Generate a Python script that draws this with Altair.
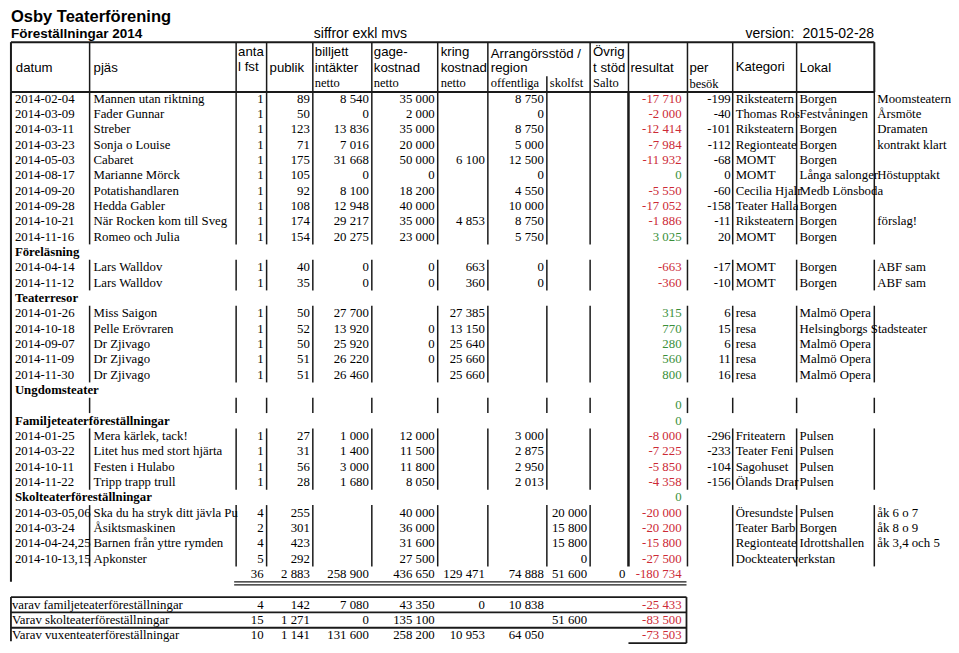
import altair as alt
import pandas as pd

# ---------------- values read from the sheet ----------------
titel = "Osby Teaterförening"
undertitel = "Föreställningar 2014"
anmarkning = "siffror exkl mvs"
version_etikett = "version:"
version_datum = "2015-02-28"

sektion_rad = [10, 13, 19, 21, 26]
sektion_namn = ["Föreläsning", "Teaterresor", "Ungdomsteater",
                "Familjeteaterföreställningar", "Skolteaterföreställningar"]

datum = ["2014-02-04", "2014-03-09", "2014-03-11", "2014-03-23", "2014-05-03",
         "2014-08-17", "2014-09-20", "2014-09-28", "2014-10-21", "2014-11-16",
         None, "2014-04-14", "2014-11-12", None,
         "2014-01-26", "2014-10-18", "2014-09-07", "2014-11-09", "2014-11-30",
         None, None, None,
         "2014-01-25", "2014-03-22", "2014-10-11", "2014-11-22", None,
         "2014-03-05,06", "2014-03-24", "2014-04-24,25", "2014-10-13,15"]
pjas = ["Mannen utan riktning", "Fader Gunnar", "Streber", "Sonja o Louise", "Cabaret",
        "Marianne Mörck", "Potatishandlaren", "Hedda Gabler", "När Rocken kom till Sveg",
        "Romeo och Julia", None, "Lars Walldov", "Lars Walldov", None,
        "Miss Saigon", "Pelle Erövraren", "Dr Zjivago", "Dr Zjivago", "Dr Zjivago",
        None, None, None,
        "Mera kärlek, tack!", "Litet hus med stort hjärta", "Festen i Hulabo",
        "Tripp trapp trull", None,
        "Ska du ha stryk ditt jävla Pu", "Åsiktsmaskinen", "Barnen från yttre rymden",
        "Apkonster"]
antal = [1, 1, 1, 1, 1, 1, 1, 1, 1, 1, None, 1, 1, None, 1, 1, 1, 1, 1,
         None, None, None, 1, 1, 1, 1, None, 4, 2, 4, 5]
publik = [89, 50, 123, 71, 175, 105, 92, 108, 174, 154, None, 40, 35, None,
          50, 52, 50, 51, 51, None, None, None, 27, 31, 56, 28, None, 255, 301, 423, 292]
biljett = [8540, 0, 13836, 7016, 31668, 0, 8100, 12948, 29217, 20275, None, 0, 0, None,
           27700, 13920, 25920, 26220, 26460, None, None, None, 1000, 1400, 3000, 1680,
           None, None, None, None, None]
gage = [35000, 2000, 35000, 20000, 50000, 0, 18200, 40000, 35000, 23000, None, 0, 0, None,
        None, 0, 0, 0, None, None, None, None, 12000, 11500, 11800, 8050,
        None, 40000, 36000, 31600, 27500]
kring = [None, None, None, None, 6100, None, None, None, 4853, None, None, 663, 360, None,
         27385, 13150, 25640, 25660, 25660, None, None, None, None, None, None, None,
         None, None, None, None, None]
offentliga = [8750, 0, 8750, 5000, 12500, 0, 4550, 10000, 8750, 5750, None, 0, 0, None,
              None, None, None, None, None, None, None, None, 3000, 2875, 2950, 2013,
              None, None, None, None, None]
skolfst = [None] * 27 + [20000, 15800, 15800, 0]
resultat = [-17710, -2000, -12414, -7984, -11932, 0, -5550, -17052, -1886, 3025, None,
            -663, -360, None, 315, 770, 280, 560, 800, None, 0, 0,
            -8000, -7225, -5850, -4358, 0, -20000, -20200, -15800, -27500]
per_besok = [-199, -40, -101, -112, -68, 0, -60, -158, -11, 20, None, -17, -10, None,
             6, 15, 6, 11, 16, None, None, None, -296, -233, -104, -156,
             None, None, None, None, None]
kategori = ["Riksteatern", "Thomas Ros", "Riksteatern", "Regionteate", "MOMT", "MOMT",
            "Cecilia Hjalr", "Teater Halla", "Riksteatern", "MOMT", None, "MOMT", "MOMT", None,
            "resa", "resa", "resa", "resa", "resa", None, None, None,
            "Friteatern", "Teater Feni", "Sagohuset", "Ölands Drar", None,
            "Öresundste", "Teater Barb", "Regionteate", "Dockteaterverkstan"]
lokal = ["Borgen", "Festvåningen", "Borgen", "Borgen", "Borgen", "Långa salonger",
         "Medb Lönsboda", "Borgen", "Borgen", "Borgen", None, "Borgen", "Borgen", None,
         "Malmö Opera", "Helsingborgs Stadsteater", "Malmö Opera", "Malmö Opera", "Malmö Opera",
         None, None, None, "Pulsen", "Pulsen", "Pulsen", "Pulsen", None,
         "Pulsen", "Borgen", "Idrottshallen", None]
notering = ["Moomsteatern", "Årsmöte", "Dramaten", "kontrakt klart", None, "Höstupptakt",
            None, None, "förslag!", None, None, "ABF sam", "ABF sam"] + [None] * 14 + \
           ["åk 6 o 7", "åk 8 o 9", "åk 3,4 och 5", None]

# totals row: antal, publik, biljett, gage, kring, offentliga, skolfst, salto, resultat
summa = [36, 2883, 258900, 436650, 129471, 74888, 51600, 0, -180734]

varav_namn = ["varav familjeteaterföreställningar", "Varav skolteaterföreställningar",
              "Varav vuxenteaterföreställningar"]
varav_antal = [4, 15, 10]
varav_publik = [142, 1271, 1141]
varav_biljett = [7080, 0, 131600]
varav_gage = [43350, 135100, 258200]
varav_kring = [0, None, 10953]
varav_offentliga = [10838, None, 64050]
varav_skolfst = [None, 51600, None]
varav_resultat = [-25433, -83500, -73503]

# ---------------- layout (reference pixel grid) ----------------
W, H = 943, 637
ROW0, PITCH = 93.0, 15.72
COL_RIGHT = {"antal": 260, "publik": 307, "biljett": 367, "gage": 434, "kring": 485,
             "offentliga": 545, "skolfst": 589, "salto": 628, "resultat": 685, "per": 735}
COL_LEFT = {"datum": 7, "pjas": 87, "kategori": 740, "lokal": 805, "notering": 884}
INNER_LINES = [83, 232, 263, 310, 370, 437, 488, 548, 592, 691, 737, 802, 881]
HEAD_LINES = [3, 83, 232, 263, 310, 370, 437, 488, 592, 631, 691, 737, 802, 881]
RED, GREEN, BLACK = "#cc2a36", "#3a8f3a", "#000000"


def ry(r):
    return ROW0 + PITCH * r


def fmt(v):
    return f"{int(v):,}".replace(",", " ")


left_cells, right_cells, bold_cells = [], [], []
nrows = len(datum)
for r in range(nrows):
    for key, arr in (("datum", datum), ("pjas", pjas), ("kategori", kategori),
                     ("lokal", lokal), ("notering", notering)):
        if arr[r] is not None:
            left_cells.append({"x": COL_LEFT[key], "y": ry(r), "t": arr[r], "c": BLACK})
    for key, arr in (("antal", antal), ("publik", publik), ("biljett", biljett),
                     ("gage", gage), ("kring", kring), ("offentliga", offentliga),
                     ("skolfst", skolfst), ("per", per_besok)):
        if arr[r] is not None:
            right_cells.append({"x": COL_RIGHT[key], "y": ry(r), "t": fmt(arr[r]), "c": BLACK})
    if resultat[r] is not None:
        right_cells.append({"x": COL_RIGHT["resultat"], "y": ry(r), "t": fmt(resultat[r]),
                            "c": RED if resultat[r] < 0 else GREEN})
for r, name in zip(sektion_rad, sektion_namn):
    bold_cells.append({"x": COL_LEFT["datum"], "y": ry(r), "t": name, "c": BLACK})

sum_keys = ["antal", "publik", "biljett", "gage", "kring", "offentliga", "skolfst", "salto", "resultat"]
for key, v in zip(sum_keys, summa):
    right_cells.append({"x": COL_RIGHT[key], "y": ry(31), "t": fmt(v),
                        "c": RED if key == "resultat" else BLACK})

varav_cols = [varav_antal, varav_publik, varav_biljett, varav_gage, varav_kring,
              varav_offentliga, varav_skolfst]
for i in range(3):
    r = 33 + i
    left_cells.append({"x": 4, "y": ry(r), "t": varav_namn[i], "c": BLACK})
    for key, arr in zip(sum_keys[:7], varav_cols):
        if arr[i] is not None:
            right_cells.append({"x": COL_RIGHT[key], "y": ry(r), "t": fmt(arr[i]), "c": BLACK})
    right_cells.append({"x": COL_RIGHT["resultat"], "y": ry(r), "t": fmt(varav_resultat[i]), "c": RED})

# header texts
head_sans = [("datum", 8, 61), ("pjäs", 87, 61), ("anta", 234, 45), ("l fst", 234, 60),
             ("publik", 266, 62), ("billjett", 312, 45), ("intäkter", 312, 61),
             ("gage-", 372, 45), ("kostnad", 372, 61), ("kring", 440, 45), ("kostnad", 440, 61),
             ("Arrangörsstöd /", 491, 47), ("region", 491, 62), ("Övrig", 595, 45),
             ("t stöd", 595, 61), ("resultat", 633, 62), ("per", 693, 62),
             ("Kategori", 740, 60), ("Lokal", 805, 62)]
head_serif = [("netto", 312, 77), ("netto", 372, 77), ("netto", 440, 77),
              ("offentliga", 491, 77), ("skolfst", 551, 77), ("Salto", 595, 77),
              ("besök", 693, 78)]
top_sans = [(anmarkning, 311, 27), (version_etikett, 750, 27), (version_datum, 808, 27)]

# rules
rules = []


def rule(x, x2, y, y2, w):
    rules.append({"x": x, "x2": x2, "y": y, "y2": y2, "w": w})


HEAD_TOP, HEAD_BOT = 35, 86
rule(3, 881, HEAD_TOP, HEAD_TOP, 2)
rule(3, 881, HEAD_BOT, HEAD_BOT, 2)
for xl in HEAD_LINES:
    rule(xl, xl, HEAD_TOP, HEAD_BOT, 2 if xl in (3, 881) else 1.5)
rule(548, 548, 70, HEAD_BOT, 1.5)

lined = [r for r in range(nrows) if r not in sektion_rad]
runs, start, prev = [], lined[0], lined[0]
for r in lined[1:]:
    if r != prev + 1:
        runs.append((start, prev))
        start = r
    prev = r
runs.append((start, prev))
for a, b in runs:
    for xl in INNER_LINES:
        rule(xl, xl, ry(a) - PITCH / 2, ry(b) + PITCH / 2, 1.5)
rule(3, 3, HEAD_BOT, ry(31) + PITCH / 2, 2)
rule(631, 631, HEAD_BOT, ry(30) + PITCH / 2, 2.5)
# double underline of totals
rule(230, 690, ry(31) + 8, ry(31) + 8, 1.3)
rule(230, 690, ry(31) + 11, ry(31) + 11, 1.3)
# varav box
for r in (33, 34, 35):
    rule(3, 690, ry(r) - PITCH / 2, ry(r) - PITCH / 2, 1.8)
rule(3, 3, ry(33) - PITCH / 2, ry(35) + PITCH / 2 - 2, 1.8)
rule(690, 690, ry(33) - PITCH / 2, ry(35) + PITCH / 2, 1.8)
rule(631, 690, ry(35) + PITCH / 2, ry(35) + PITCH / 2, 1.8)

# ---------------- chart ----------------
XS = alt.Scale(domain=[0, 959], range=[0, W], nice=False, zero=False)
YS = alt.Scale(domain=[0, 653], range=[0, H], nice=False, zero=False)
X = alt.X("x:Q", scale=XS, axis=None)
Y = alt.Y("y:Q", scale=YS, axis=None)

SERIF = "Liberation Serif"
SANS = "Liberation Sans"


def text_layer(rows, align, font, size, weight="normal"):
    df = pd.DataFrame(rows)
    if "c" not in df:
        df["c"] = BLACK
    return alt.Chart(df).mark_text(align=align, baseline="middle", font=font,
                                   fontSize=size, fontWeight=weight).encode(
        x=X, y=Y, text="t:N", color=alt.Color("c:N", scale=None))


def pts(lst):
    return [{"x": x, "y": y, "t": t} for t, x, y in lst]


rule_layer = alt.Chart(pd.DataFrame(rules)).mark_rule(color="#1a1a1a").encode(
    x=X, x2="x2:Q", y=Y, y2="y2:Q", strokeWidth=alt.StrokeWidth("w:Q", scale=None))

chart = alt.layer(
    rule_layer,
    text_layer([{"x": 3, "y": 9, "t": titel}], "left", SANS, 16.5, "bold"),
    text_layer([{"x": 3, "y": 27, "t": undertitel}], "left", SANS, 13.5, "bold"),
    text_layer(pts(top_sans), "left", SANS, 14),
    text_layer(pts(head_sans), "left", SANS, 13.2),
    text_layer(pts(head_serif), "left", SERIF, 12.5),
    text_layer(left_cells, "left", SERIF, 12.8),
    text_layer(right_cells, "right", SERIF, 12.8),
    text_layer(bold_cells, "left", SERIF, 12.8, "bold"),
).properties(
    width=W, height=H, padding=0,
    autosize=alt.AutoSizeParams(type="none"),
).configure_view(strokeWidth=0)

chart.save("out.html", embed_options={"renderer": "svg", "actions": False})
